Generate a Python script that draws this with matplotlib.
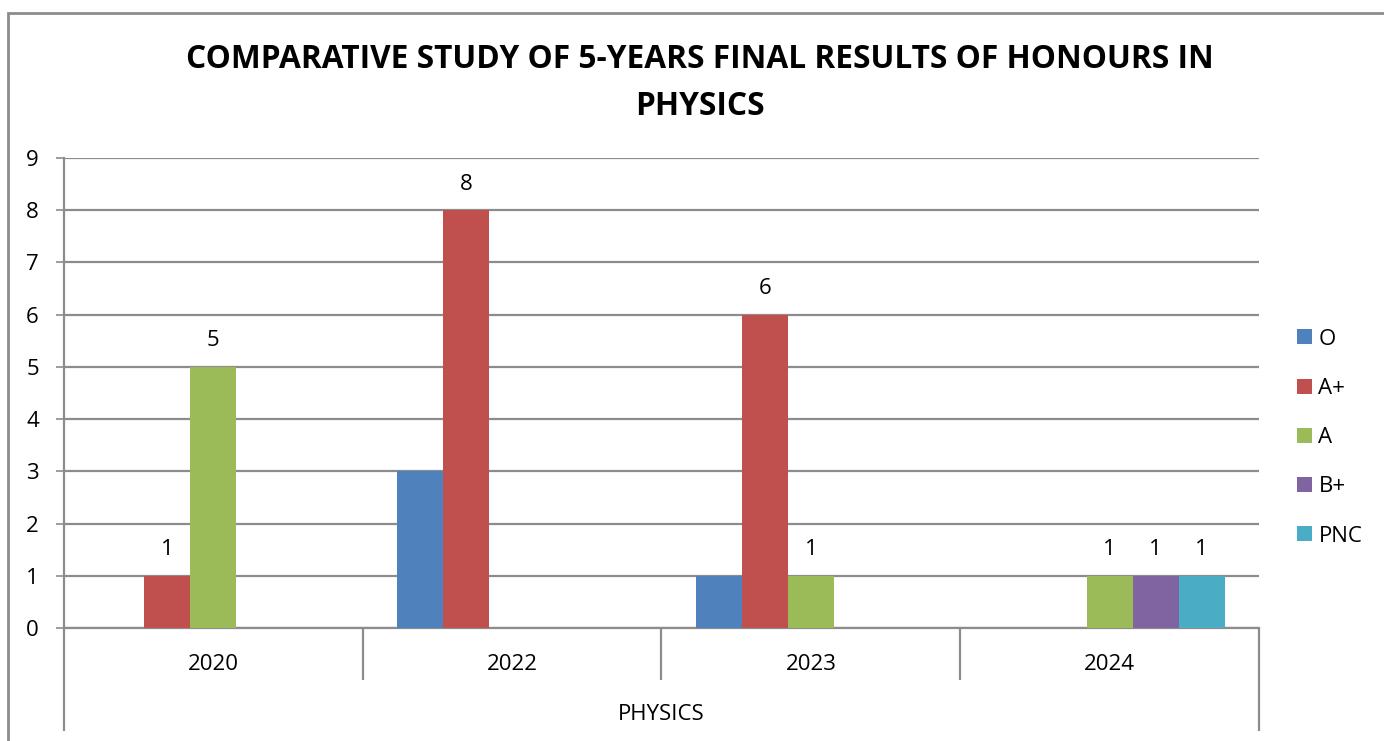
import numpy as np
import matplotlib.pyplot as plt
from matplotlib.patches import Rectangle

# данные
years = ['2020', '2022', '2023', '2024']
grades = ['O', 'A+', 'A', 'B+', 'PNC']
o_vals = [0, 3, 1, 0]
aplus_vals = [1, 8, 6, 0]
a_vals = [5, 0, 1, 1]
bplus_vals = [0, 0, 0, 1]
pnc_vals = [0, 0, 0, 1]
series = [o_vals, aplus_vals, a_vals, bplus_vals, pnc_vals]
colors = ['#4F81BD', '#C0504D', '#9BBB59', '#8064A2', '#4BACC6']
show_labels = [False, True, True, True, True]  # у серии O подписей нет

plt.rcParams['font.family'] = ['Open Sans', 'DejaVu Sans']
grid_col = '#8c8c8c'
fs = 16

fig = plt.figure(figsize=(13.84, 7.41), dpi=100)
ax = fig.add_axes([0.0462, 0.1525, 0.8635, 0.6343])

x = np.arange(len(years))
w = 0.154
for i, (vals, col) in enumerate(zip(series, colors)):
    pos = x + (i - 2) * w
    ax.bar(pos, vals, width=w, color=col, label=grades[i], zorder=3)
    if show_labels[i]:
        for p, v in zip(pos, vals):
            if v > 0:
                ax.text(p, v + 0.5, str(v), ha='center', va='center', fontsize=fs)

ax.set_xlim(-0.5, 3.5)
ax.set_ylim(0, 9)
ax.set_yticks(range(10))
ax.yaxis.grid(True, color=grid_col, linewidth=1.6, zorder=0)
ax.tick_params(axis='y', length=6, width=1.2, color=grid_col, pad=12, labelsize=fs)
ax.set_xticks(x)
ax.set_xticklabels(years)
ax.tick_params(axis='x', length=0, pad=19, labelsize=fs)
for s in ['top', 'right']:
    ax.spines[s].set_visible(False)
for s in ['left', 'bottom']:
    ax.spines[s].set_color(grid_col)
    ax.spines[s].set_linewidth(1.6)

# многоуровневая ось категорий
tr = ax.get_xaxis_transform()
ax.vlines([0.5, 1.5, 2.5], -0.111, 0, transform=tr, color=grid_col, lw=1.6, clip_on=False)
ax.vlines([-0.5, 3.5], -0.219, 0, transform=tr, color=grid_col, lw=1.6, clip_on=False)
ax.text(1.5, -0.183, 'PHYSICS', transform=tr, ha='center', va='center', fontsize=fs)

fig.text(0.506, 0.888, 'COMPARATIVE STUDY OF 5-YEARS FINAL RESULTS OF HONOURS IN\nPHYSICS',
         ha='center', va='center', fontsize=22.8, fontweight='bold', linespacing=1.55)

ax.legend(loc='center left', bbox_to_anchor=(1.032, 0.405), frameon=False, fontsize=fs,
          handlelength=0.65, handleheight=0.65, labelspacing=1.27, handletextpad=0.3,
          borderpad=0, borderaxespad=0)

# рамка вокруг диаграммы
fig.patches.append(Rectangle((8 / 1384, -0.05), 1.1, 1 - 13 / 741 + 0.05, transform=fig.transFigure,
                             fill=False, edgecolor=grid_col, linewidth=2))

fig.savefig('out.png', dpi=100)
